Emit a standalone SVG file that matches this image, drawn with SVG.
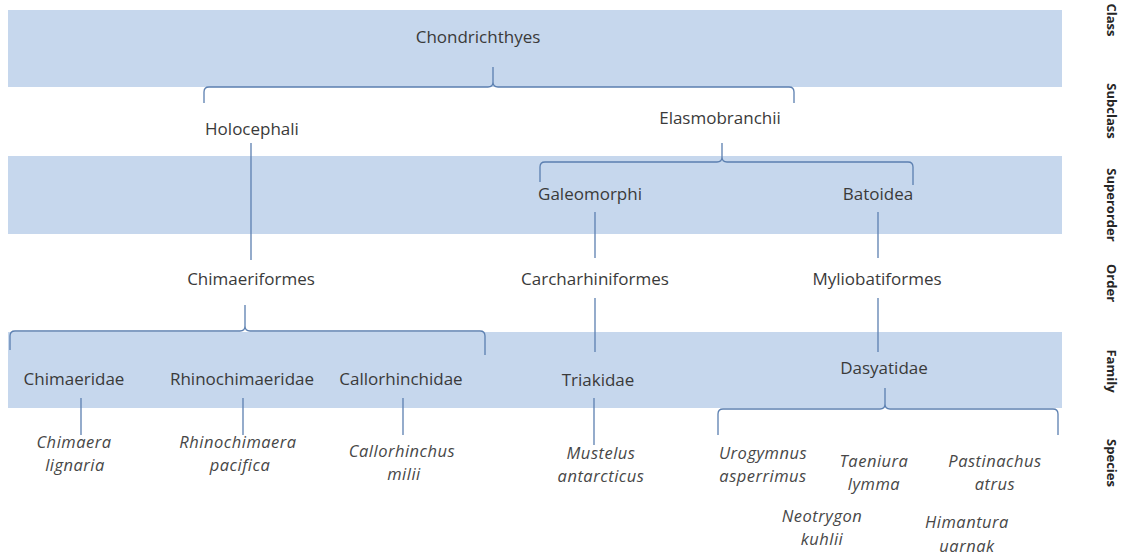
<svg xmlns="http://www.w3.org/2000/svg" width="1121" height="558" viewBox="0 0 1121 558">
<style>
.band{fill:#c6d7ed}
.lbl{font-family:"Open Sans","Liberation Sans",sans-serif;font-size:17px;fill:#3a3a3a;text-anchor:middle}
.sp{font-family:"Open Sans","Liberation Sans",sans-serif;font-size:16.5px;font-style:italic;fill:#474747;text-anchor:middle;letter-spacing:0.5px}
.rank{font-family:"Open Sans","Liberation Sans",sans-serif;font-size:13px;font-weight:bold;fill:#262626;text-anchor:middle}
.ln{fill:none;stroke:#5b7fb0;stroke-width:1.3}
</style>
<rect width="1121" height="558" fill="#ffffff"/>
<g id="bands">
<rect class="band" x="8" y="10" width="1054" height="77"/>
<rect class="band" x="8" y="156" width="1054" height="78"/>
<rect class="band" x="8" y="332" width="1054" height="76"/>
</g>
<g id="ranks">
<text class="rank" transform="translate(1107,20) rotate(90)">Class</text>
<text class="rank" transform="translate(1107,111) rotate(90)">Subclass</text>
<text class="rank" transform="translate(1107,205) rotate(90)">Superorder</text>
<text class="rank" transform="translate(1107,283) rotate(90)">Order</text>
<text class="rank" transform="translate(1107,371) rotate(90)">Family</text>
<text class="rank" transform="translate(1107,463) rotate(90)">Species</text>
</g>
<g id="connectors">
<path class="ln" d="M204,103 L204,92 Q204,87 209,87 L488,87 Q493,87 493,82 L493,67 M493,82 Q493,87 498,87 L789,87 Q794,87 794,92 L794,103"/>
<path class="ln" d="M251,143 L251,260"/>
<path class="ln" d="M540,182 L540,167 Q540,162 545,162 L717,162 Q722,162 722,157 L722,143 M722,157 Q722,162 727,162 L908,162 Q913,162 913,167 L913,185"/>
<path class="ln" d="M595,212 L595,258"/>
<path class="ln" d="M878,212 L878,258"/>
<path class="ln" d="M10,350 L10,336 Q10,331 15,331 L240,331 Q245,331 245,326 L245,305 M245,326 Q245,331 250,331 L480,331 Q485,331 485,336 L485,355"/>
<path class="ln" d="M595,298 L595,352"/>
<path class="ln" d="M878,298 L878,352"/>
<path class="ln" d="M81,398 L81,435"/>
<path class="ln" d="M243,398 L243,435"/>
<path class="ln" d="M403,398 L403,435"/>
<path class="ln" d="M594,398 L594,445"/>
<path class="ln" d="M718,435 L718,414 Q718,409 723,409 L880,409 Q885,409 885,404 L885,388 M885,404 Q885,409 890,409 L1053,409 Q1058,409 1058,414 L1058,435"/>
</g>
<g id="n-chondrichthyes"><text class="lbl" x="478" y="43">Chondrichthyes</text></g>
<g id="n-holocephali"><text class="lbl" x="252" y="135">Holocephali</text></g>
<g id="n-elasmobranchii"><text class="lbl" x="720" y="124">Elasmobranchii</text></g>
<g id="n-galeomorphi"><text class="lbl" x="590" y="200">Galeomorphi</text></g>
<g id="n-batoidea"><text class="lbl" x="878" y="200">Batoidea</text></g>
<g id="n-chimaeriformes"><text class="lbl" x="251" y="285">Chimaeriformes</text></g>
<g id="n-carcharhiniformes"><text class="lbl" x="595" y="285">Carcharhiniformes</text></g>
<g id="n-myliobatiformes"><text class="lbl" x="877" y="285">Myliobatiformes</text></g>
<g id="n-chimaeridae"><text class="lbl" x="74" y="385">Chimaeridae</text></g>
<g id="n-rhinochimaeridae"><text class="lbl" x="242" y="385">Rhinochimaeridae</text></g>
<g id="n-callorhinchidae"><text class="lbl" x="401" y="385">Callorhinchidae</text></g>
<g id="n-triakidae"><text class="lbl" x="598" y="386">Triakidae</text></g>
<g id="n-dasyatidae"><text class="lbl" x="884" y="374">Dasyatidae</text></g>
<g id="s-chimaera"><text class="sp" x="74" y="448">Chimaera</text><text class="sp" x="75" y="471">lignaria</text></g>
<g id="s-rhinochimaera"><text class="sp" x="238" y="448">Rhinochimaera</text><text class="sp" x="240" y="471">pacifica</text></g>
<g id="s-callorhinchus"><text class="sp" x="402" y="457">Callorhinchus</text><text class="sp" x="404" y="480">milii</text></g>
<g id="s-mustelus"><text class="sp" x="601" y="459">Mustelus</text><text class="sp" x="601" y="482">antarcticus</text></g>
<g id="s-urogymnus"><text class="sp" x="763" y="459">Urogymnus</text><text class="sp" x="763" y="482">asperrimus</text></g>
<g id="s-taeniura"><text class="sp" x="874" y="467">Taeniura</text><text class="sp" x="874" y="490">lymma</text></g>
<g id="s-pastinachus"><text class="sp" x="995" y="467">Pastinachus</text><text class="sp" x="995" y="490">atrus</text></g>
<g id="s-neotrygon"><text class="sp" x="822" y="522">Neotrygon</text><text class="sp" x="822" y="545">kuhlii</text></g>
<g id="s-himantura"><text class="sp" x="967" y="528">Himantura</text><text class="sp" x="967" y="552">uarnak</text></g>
</svg>
